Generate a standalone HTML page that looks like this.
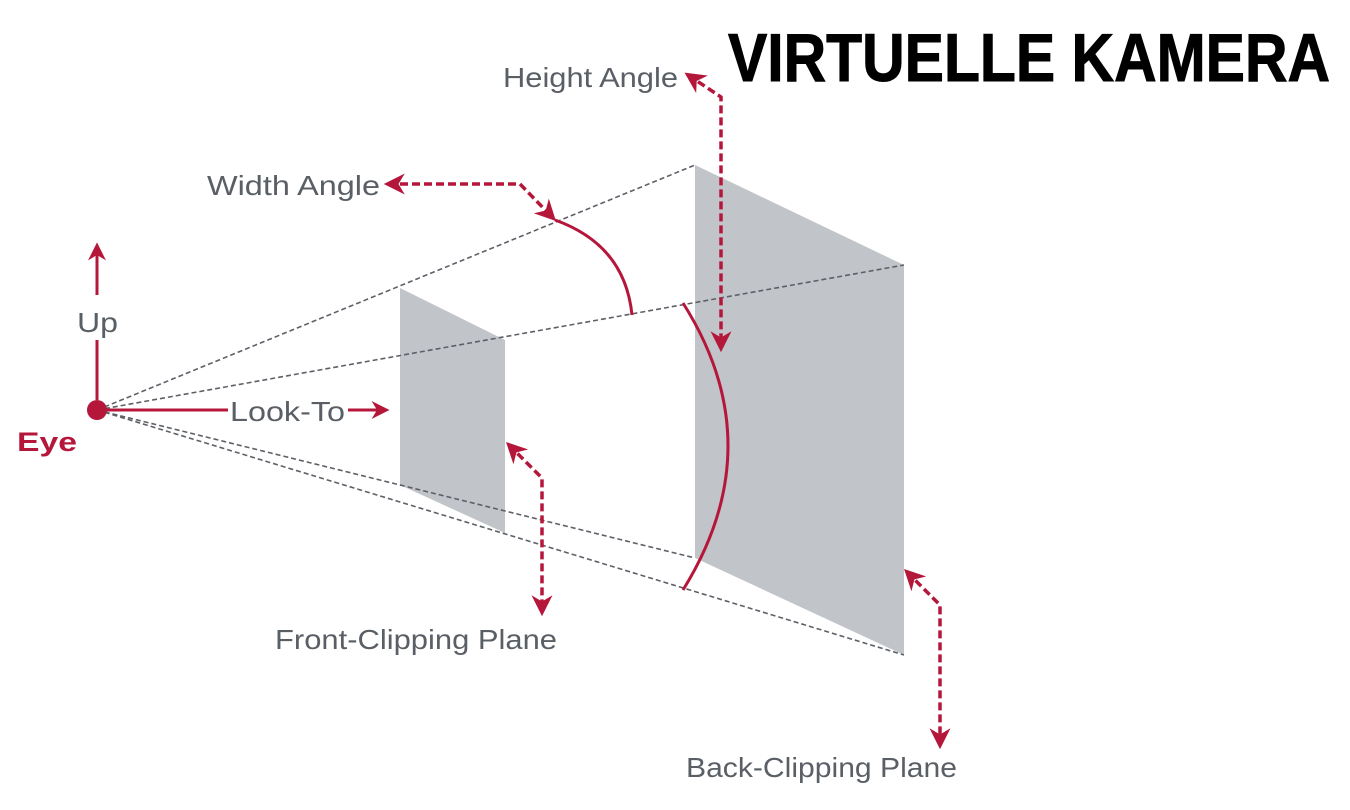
<!DOCTYPE html>
<html><head><meta charset="utf-8"><style>html,body{margin:0;padding:0;background:#fff}svg{display:block}</style></head>
<body>
<svg width="1350" height="810" viewBox="0 0 1350 810" xmlns="http://www.w3.org/2000/svg">
<defs>
<marker id="ah" viewBox="0 0 10 10" refX="8" refY="5" markerWidth="6" markerHeight="6" orient="auto-start-reverse"><path d="M0,0 L10,5 L0,10 L3,5 Z" fill="#b5173b"/></marker>
</defs>
<polygon points="400,288 505,340 505,533 400,485" fill="#c1c4c8"/>
<polygon points="695,165 904,265 904,655 695,558" fill="#c1c4c8"/>
<g stroke="#5d6167" stroke-width="1.6" stroke-dasharray="5,3" fill="none">
<line x1="97" y1="410" x2="695" y2="165"/>
<line x1="97" y1="410" x2="904" y2="265"/>
<line x1="97" y1="410" x2="695" y2="558"/>
<line x1="97" y1="410" x2="904" y2="655"/>
</g>
<g stroke="#b5173b" stroke-width="3" fill="none">
<path d="M555,220 Q625,245 632,315"/>
<path d="M683,303 Q773,445 683,590"/>
<line x1="97" y1="400" x2="97" y2="340"/>
<line x1="97" y1="295" x2="97" y2="246" marker-end="url(#ah)"/>
<line x1="105" y1="410" x2="228" y2="410"/>
<line x1="348" y1="410" x2="386" y2="410" marker-end="url(#ah)"/>
</g>
<g stroke="#b5173b" stroke-width="3.5" fill="none" stroke-dasharray="8,4">
<polyline points="388,184 520,184 553,218" marker-start="url(#ah)" marker-end="url(#ah)"/>
<polyline points="688,75 721,97 721,348" marker-start="url(#ah)" marker-end="url(#ah)"/>
<polyline points="509,445 542,478 542,612" marker-start="url(#ah)" marker-end="url(#ah)"/>
<polyline points="907,572 940,605 940,745" marker-start="url(#ah)" marker-end="url(#ah)"/>
</g>
<circle cx="97" cy="410" r="10" fill="#b5173b"/>
<g font-family="Liberation Sans, sans-serif" fill="#5a5f66" font-size="28">
<text x="503" y="87" textLength="175" lengthAdjust="spacingAndGlyphs">Height Angle</text>
<text x="207" y="195" textLength="173" lengthAdjust="spacingAndGlyphs">Width Angle</text>
<text x="77" y="332" textLength="41" lengthAdjust="spacingAndGlyphs">Up</text>
<text x="230" y="421" textLength="115" lengthAdjust="spacingAndGlyphs">Look-To</text>
<text x="275" y="649" textLength="282" lengthAdjust="spacingAndGlyphs">Front-Clipping Plane</text>
<text x="686" y="777" textLength="271" lengthAdjust="spacingAndGlyphs">Back-Clipping Plane</text>
</g>
<text x="17" y="451" font-family="Liberation Sans, sans-serif" font-weight="bold" font-size="27" fill="#b5173b" textLength="60" lengthAdjust="spacingAndGlyphs">Eye</text>
<text x="728" y="81" font-family="Liberation Sans, sans-serif" font-weight="bold" font-size="68" fill="#000" stroke="#000" stroke-width="1" textLength="602" lengthAdjust="spacingAndGlyphs">VIRTUELLE KAMERA</text>
</svg>
</body></html>
